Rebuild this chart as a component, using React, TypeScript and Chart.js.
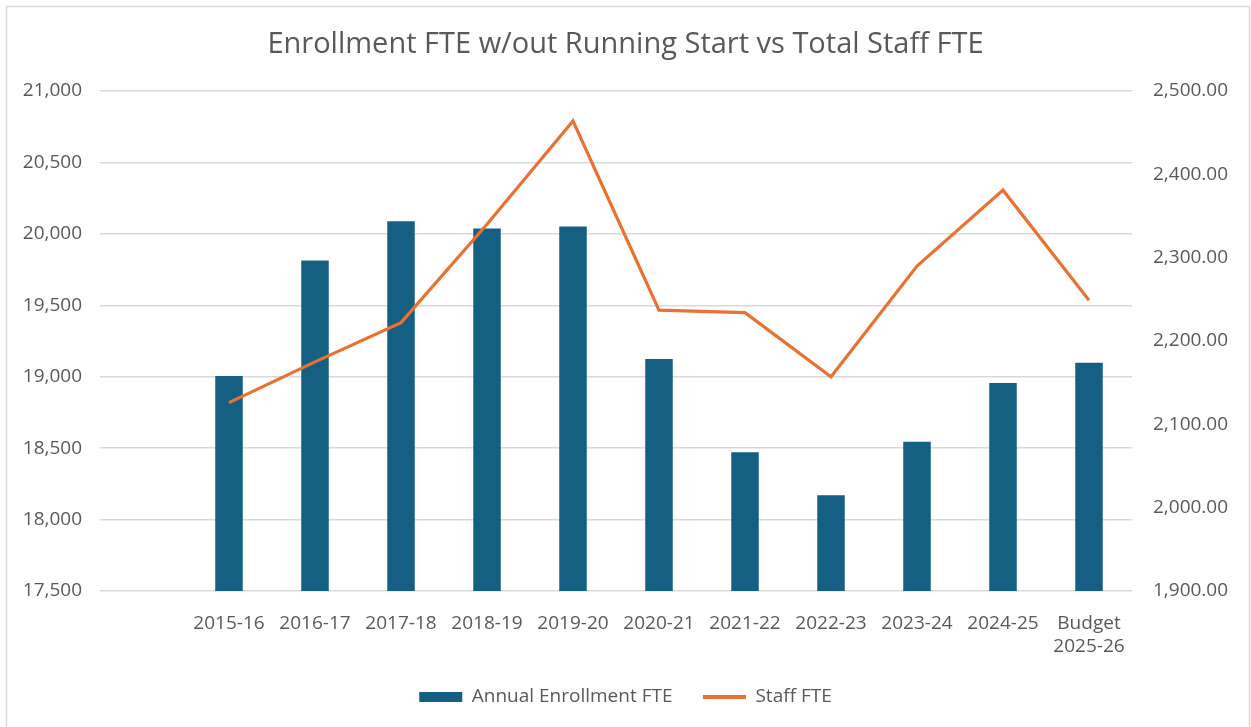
import React, { useEffect, useRef } from "react";
import { Chart, registerables } from "chart.js";

Chart.register(...registerables);

const categories: (string | string[])[] = [
  "",
  "2015-16",
  "2016-17",
  "2017-18",
  "2018-19",
  "2019-20",
  "2020-21",
  "2021-22",
  "2022-23",
  "2023-24",
  "2024-25",
  ["Budget", "2025-26"],
];

const enrollmentFTE: (number | null)[] = [
  null, 19005, 19813, 20089, 20037, 20051, 19124, 18472, 18171, 18544, 18956, 19098,
];

const staffFTE: (number | null)[] = [
  null, 2126, 2175, 2222, 2340, 2464, 2237, 2234, 2157, 2290, 2381, 2249,
];

const title = "Enrollment FTE w/out Running Start vs Total Staff FTE";
const seriesNames = ["Annual Enrollment FTE", "Staff FTE"];

const FONT = "'Open Sans', 'Noto Sans', sans-serif";
const TEXT = "#595959";
const GRID = "#d9d9d9";
const BLUE = "#156082";
const ORANGE = "#E97132";

const framePlugin = {
  id: "frame",
  beforeDraw(chart: any) {
    const { ctx, width, height } = chart;
    ctx.save();
    ctx.fillStyle = "#ffffff";
    ctx.fillRect(0, 0, width, height);
    ctx.strokeStyle = GRID;
    ctx.lineWidth = 1.5;
    ctx.beginPath();
    ctx.moveTo(6.5, height);
    ctx.lineTo(6.5, 6.5);
    ctx.lineTo(width - 1.5, 6.5);
    ctx.lineTo(width - 1.5, height);
    ctx.stroke();
    ctx.restore();
  },
};

export default function App() {
  const canvasRef = useRef<HTMLCanvasElement | null>(null);

  useEffect(() => {
    if (!canvasRef.current) return;
    const chart = new Chart(canvasRef.current, {
      type: "bar",
      data: {
        labels: categories,
        datasets: [
          {
            type: "bar",
            label: seriesNames[0],
            data: enrollmentFTE,
            backgroundColor: BLUE,
            borderWidth: 0,
            barPercentage: 0.32,
            categoryPercentage: 1,
            yAxisID: "y",
            order: 1,
          },
          {
            type: "line",
            label: seriesNames[1],
            data: staffFTE,
            borderColor: ORANGE,
            backgroundColor: ORANGE,
            borderWidth: 3.2,
            pointRadius: 0,
            tension: 0,
            yAxisID: "y2",
            order: 0,
          } as any,
        ],
      },
      options: {
        responsive: true,
        maintainAspectRatio: false,
        animation: false,
        layout: { padding: { left: 0, right: 0, top: 0, bottom: 10.5 } },
        plugins: {
          title: {
            display: true,
            text: title,
            color: TEXT,
            font: { family: FONT, size: 29, weight: "normal" as any },
            padding: { top: 27.6, bottom: 28.6 },
          },
          legend: {
            display: true,
            position: "bottom",
            labels: {
              color: TEXT,
              font: { family: FONT, size: 19 },
              usePointStyle: true,
              pointStyleWidth: 43,
              boxHeight: 10,
              padding: 30.5,
              sort: (a: any, b: any) => a.datasetIndex - b.datasetIndex,
              generateLabels: (c: any) =>
                (Chart.defaults.plugins.legend.labels.generateLabels as any)(c).map((l: any) =>
                  l.datasetIndex === 0
                    ? { ...l, pointStyle: "rect", lineWidth: 0, fillStyle: BLUE, strokeStyle: BLUE }
                    : { ...l, pointStyle: "line", lineWidth: 4, strokeStyle: ORANGE, fillStyle: ORANGE }
                ),
            },
          },
          tooltip: { enabled: false },
        },
        scales: {
          x: {
            grid: { display: false, drawTicks: false, tickLength: 0 },
            border: { display: false },
            ticks: {
              color: TEXT,
              font: { family: FONT, size: 19 },
              padding: 21,
              maxRotation: 0,
              autoSkip: false,
            },
            afterFit: (s: any) => {
              s.height = 66;
            },
          },
          y: {
            position: "left",
            min: 17500,
            max: 21000,
            grid: { color: GRID, lineWidth: 1.5, drawTicks: false },
            border: { display: false },
            ticks: {
              stepSize: 500,
              color: TEXT,
              font: { family: FONT, size: 19 },
              padding: 18,
              callback: (v: any) => Number(v).toLocaleString("en-US"),
            },
            afterFit: (s: any) => {
              s.width = 100;
            },
          },
          y2: {
            position: "right",
            min: 1900,
            max: 2500,
            grid: { drawOnChartArea: false, drawTicks: false },
            border: { display: false },
            ticks: {
              stepSize: 100,
              color: TEXT,
              font: { family: FONT, size: 19 },
              padding: 21,
              callback: (v: any) =>
                Number(v).toLocaleString("en-US", { minimumFractionDigits: 2, maximumFractionDigits: 2 }),
            },
            afterFit: (s: any) => {
              s.width = 119;
            },
          },
        },
      },
      plugins: [framePlugin],
    });
    return () => chart.destroy();
  }, []);

  return (
    <div style={{ position: "absolute", left: 0, top: 0, width: 1251, height: 727, background: "#fff" }}>
      <canvas ref={canvasRef} />
    </div>
  );
}
